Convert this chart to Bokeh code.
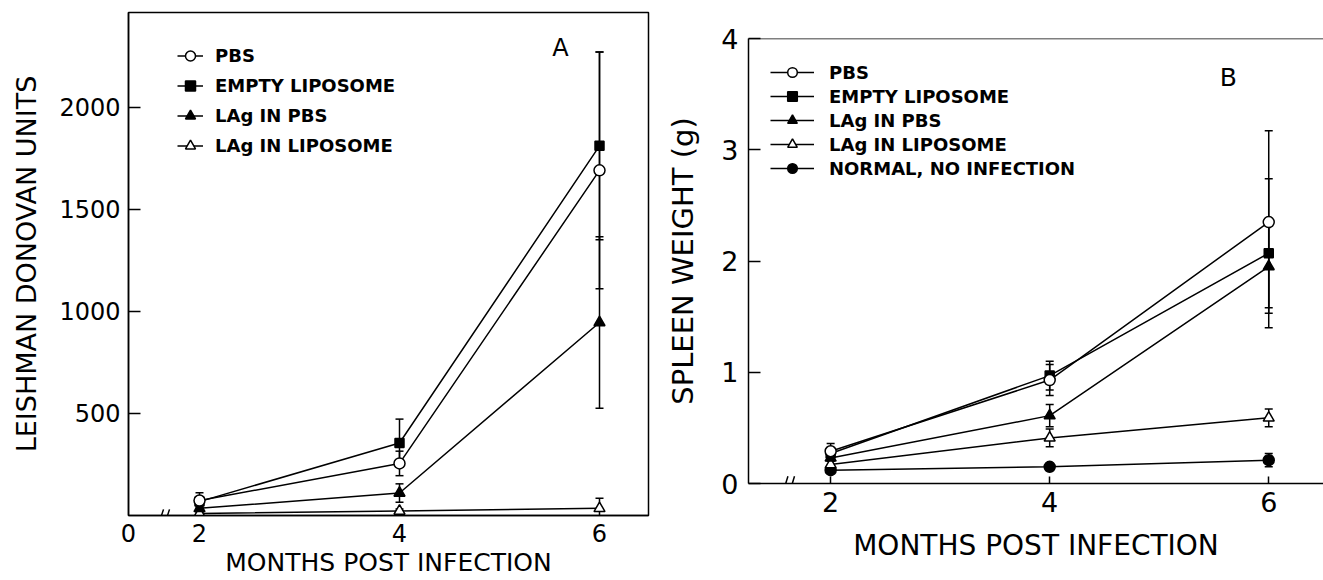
from bokeh.plotting import figure
from bokeh.models import (Range1d, FixedTicker, Legend, LegendItem, Whisker, TeeHead,
                          ColumnDataSource, Label, Span)
from bokeh.embed import file_html
from bokeh.resources import INLINE

FONT = "DejaVu Sans"

# ---------------- data ----------------
months = [2, 4, 6]

# Panel A: Leishman Donovan Units
a_pbs = [73, 255, 1690]
a_pbs_err = [38, 60, 580]
a_empty = [68, 355, 1810]
a_empty_err = [25, 117, 460]
a_lag_pbs = [35, 110, 945]
a_lag_pbs_err = [15, 45, 420]
a_lag_lipo = [10, 22, 35]
a_lag_lipo_err = [5, 10, 50]

# Panel B: spleen weight (g)
b_pbs = [0.29, 0.93, 2.35]
b_pbs_err = [0.07, 0.14, 0.82]
b_empty = [0.27, 0.97, 2.07]
b_empty_err = [0.03, 0.13, 0.67]
b_lag_pbs = [0.23, 0.61, 1.95]
b_lag_pbs_err = [0.03, 0.10, 0.37]
b_lag_lipo = [0.17, 0.41, 0.59]
b_lag_lipo_err = [0.03, 0.08, 0.08]
b_normal = [0.12, 0.15, 0.21]
b_normal_err = [0.02, 0.03, 0.06]

labels_a = ["PBS", "EMPTY LIPOSOME", "LAg IN PBS", "LAg IN LIPOSOME"]
labels_b = ["PBS", "EMPTY LIPOSOME", "LAg IN PBS", "LAg IN LIPOSOME", "NORMAL, NO INFECTION"]

a_yticks = [500, 1000, 1500, 2000]
b_yticks = [0, 1, 2, 3, 4]

# marker styles: (marker, fill, size)
STY = {
    "PBS": ("circle", "white", 11),
    "EMPTY LIPOSOME": ("square", "black", 9),
    "LAg IN PBS": ("triangle", "black", 11),
    "LAg IN LIPOSOME": ("triangle", "white", 11),
    "NORMAL, NO INFECTION": ("circle", "black", 11),
}


def add_series(p, x, y, err, label):
    marker, fill, size = STY[label]
    src = ColumnDataSource(dict(x=x, y=y,
                                lo=[v - e for v, e in zip(y, err)],
                                hi=[v + e for v, e in zip(y, err)]))
    w = Whisker(source=src, base="x", lower="lo", upper="hi",
                line_color="black", line_width=1.5,
                upper_head=TeeHead(size=8, line_width=1.5, line_color="black"),
                lower_head=TeeHead(size=8, line_width=1.5, line_color="black"))
    p.add_layout(w)
    l = p.line("x", "y", source=src, line_color="black", line_width=1.5)
    s = p.scatter("x", "y", source=src, marker=marker, size=size,
                  fill_color=fill, line_color="black", line_width=1.5)
    return LegendItem(label=label, renderers=[l, s])


def style_axes(p, tick_size, label_size):
    for ax in (p.xaxis[0], p.yaxis[0]):
        ax.axis_line_color = "black"
        ax.axis_line_width = 1.5
        ax.major_tick_line_color = "black"
        ax.major_tick_line_width = 1.5
        ax.minor_tick_line_color = None
        ax.major_label_text_font = FONT
        ax.major_label_text_font_size = tick_size
        ax.major_label_text_color = "black"
        ax.axis_label_text_font = FONT
        ax.axis_label_text_font_size = label_size
        ax.axis_label_text_font_style = "normal"
        ax.axis_label_text_color = "black"


# ---------------- Panel A ----------------
ax0 = 1.29
pa = figure(width=650, height=580, output_backend="svg", toolbar_location=None,
            x_range=Range1d(ax0, 6.49), y_range=Range1d(0, 2463),
            min_border_left=128, min_border_right=2, min_border_top=12,
            min_border_bottom=65)
pa.styles = {"position": "absolute", "left": "0px", "top": "0px"}
pa.grid.visible = False
pa.outline_line_color = "black"
pa.outline_line_width = 1.5
pa.outline_line_alpha = 1.0
pa.background_fill_color = "white"
pa.border_fill_color = "white"

# draw bottom series first so that open circles sit on top
series_a = [(a_pbs, a_pbs_err), (a_empty, a_empty_err),
            (a_lag_pbs, a_lag_pbs_err), (a_lag_lipo, a_lag_lipo_err)]
items_a = [None] * len(labels_a)
for i in reversed(range(len(labels_a))):
    items_a[i] = add_series(pa, months, series_a[i][0], series_a[i][1], labels_a[i])

style_axes(pa, "24px", "25px")
pa.xaxis.ticker = FixedTicker(ticks=[ax0] + months)
pa.xaxis.major_label_overrides = {ax0: "0"}
pa.xaxis.major_tick_in = 0
pa.xaxis.major_tick_out = 0
pa.xaxis.major_label_standoff = 8
pa.xaxis.axis_label = "MONTHS POST INFECTION"
pa.xaxis.axis_label_standoff = 3
pa.yaxis.ticker = FixedTicker(ticks=a_yticks)
pa.yaxis.major_tick_in = 12
pa.yaxis.major_tick_out = 0
pa.yaxis.major_label_standoff = 8
pa.yaxis.axis_label = "LEISHMAN DONOVAN UNITS"
pa.yaxis.axis_label_standoff = 14
pa.yaxis.axis_label_text_font_size = "27px"

# axis break marks
pa.segment(x0=[1.60, 1.66], y0=[-30, -30], x1=[1.64, 1.70], y1=[30, 30],
           line_color="black", line_width=1.5)

leg_a = Legend(items=items_a, location=(49, 357), glyph_width=26, glyph_height=25,
               label_height=25, label_standoff=12, spacing=5, padding=0, margin=0,
               border_line_color=None, background_fill_alpha=0,
               label_text_font=FONT, label_text_font_size="18px",
               label_text_font_style="bold", label_text_color="black")
pa.add_layout(leg_a)
pa.add_layout(Label(x=5.61, y=2290, text="A", text_font=FONT, text_font_size="24px",
                    text_align="center", text_baseline="middle", text_color="black"))

# ---------------- Panel B ----------------
bx0 = 1.25
pb = figure(width=673, height=580, output_backend="svg", toolbar_location=None,
            x_range=Range1d(bx0, 6.50), y_range=Range1d(0, 4),
            min_border_left=98, min_border_right=0, min_border_top=38,
            min_border_bottom=97)
pb.styles = {"position": "absolute", "left": "650px", "top": "0px"}
pb.grid.visible = False
pb.outline_line_color = None
pb.background_fill_color = "white"
pb.border_fill_color = "white"

series_b = [(b_pbs, b_pbs_err), (b_empty, b_empty_err), (b_lag_pbs, b_lag_pbs_err),
            (b_lag_lipo, b_lag_lipo_err), (b_normal, b_normal_err)]
items_b = [None] * len(labels_b)
for i in reversed(range(len(labels_b))):
    items_b[i] = add_series(pb, months, series_b[i][0], series_b[i][1], labels_b[i])

style_axes(pb, "27px", "28px")
pb.xaxis.ticker = FixedTicker(ticks=months)
pb.xaxis.major_tick_in = 7
pb.xaxis.major_tick_out = 0
pb.xaxis.major_label_standoff = 8
pb.xaxis.axis_label = "MONTHS POST INFECTION"
pb.xaxis.axis_label_standoff = 14
pb.yaxis.ticker = FixedTicker(ticks=b_yticks)
pb.yaxis.major_tick_in = 12
pb.yaxis.major_tick_out = 0
pb.yaxis.major_label_standoff = 10
pb.yaxis.axis_label = "SPLEEN WEIGHT (g)"
pb.yaxis.axis_label_standoff = 18
pb.yaxis.axis_label_text_font_size = "29px"

# top frame line of panel B
pb.add_layout(Span(location=4, dimension="width", line_color="black", line_width=1.5))

pb.segment(x0=[1.57, 1.63], y0=[-0.065, -0.065], x1=[1.61, 1.67], y1=[0.065, 0.065],
           line_color="black", line_width=1.5)

leg_b = Legend(items=items_b, location=(22, 303), glyph_width=44, glyph_height=24,
               label_height=24, label_standoff=15, spacing=0, padding=0, margin=0,
               border_line_color=None, background_fill_alpha=0,
               label_text_font=FONT, label_text_font_size="18px",
               label_text_font_style="bold", label_text_color="black")
pb.add_layout(leg_b)
pb.add_layout(Label(x=5.63, y=3.65, text="B", text_font=FONT, text_font_size="25px",
                    text_align="center", text_baseline="middle", text_color="black"))

open("out.html", "w").write(file_html([pa, pb], INLINE))
